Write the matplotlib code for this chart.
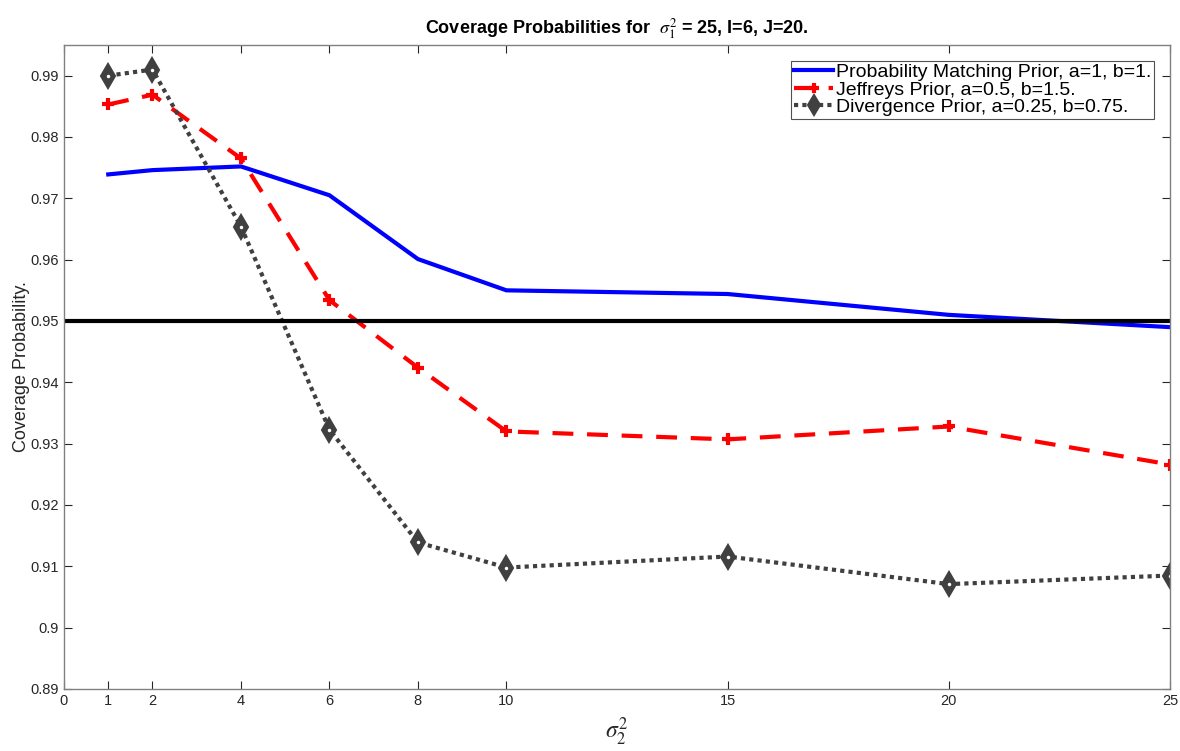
import matplotlib
matplotlib.use("Agg")
import matplotlib.pyplot as plt

plt.rcParams['font.family'] = ['Liberation Sans', 'DejaVu Sans']
plt.rcParams['mathtext.fontset'] = 'stix'

x = [1, 2, 4, 6, 8, 10, 15, 20, 25]
pm = [0.9739, 0.9746, 0.9752, 0.9705, 0.9601, 0.9550, 0.9544, 0.9510, 0.9490]
jeff = [0.9853, 0.9869, 0.9765, 0.9534, 0.9424, 0.9320, 0.9307, 0.9328, 0.9266]
div = [0.9900, 0.9910, 0.9654, 0.9323, 0.9139, 0.9098, 0.9116, 0.9071, 0.9085]
xticks = [0, 1, 2, 4, 6, 8, 10, 15, 20, 25]
yticks = [0.89, 0.90, 0.91, 0.92, 0.93, 0.94, 0.95, 0.96, 0.97, 0.98, 0.99]
ytick_labels = ['0.89', '0.9', '0.91', '0.92', '0.93', '0.94', '0.95', '0.96', '0.97', '0.98', '0.99']
nominal = 0.95

fig = plt.figure(figsize=(11.8, 7.51), dpi=100)
ax = fig.add_axes([64/1180, 1-689/751, (1170-64)/1180, (689-45)/751])

ax.plot(x, pm, color='#0000ff', lw=3, label='Probability Matching Prior, a=1, b=1.')
ax.plot(x, jeff, color='#ff0000', lw=3, ls=(0, (5, 3.3)), marker='+', ms=9, mew=3,
        label='Jeffreys Prior, a=0.5, b=1.5.')
ax.plot(x, div, color='#404040', lw=3, ls=(0, (1, 1)), marker='d', ms=12, mew=1.5,
        mfc='#404040', mec='#404040', label='Divergence Prior, a=0.25, b=0.75.')
ax.plot(x, div, ls='none', marker='o', ms=2.5, mfc='white', mec='white', mew=0)
ax.axhline(nominal, color='black', lw=3)

ax.set_xlim(0, 25)
ax.set_ylim(0.89, 0.995)
ax.set_xticks(xticks)
ax.set_xticklabels([str(t) for t in xticks])
ax.set_yticks(yticks)
ax.set_yticklabels(ytick_labels)
ax.tick_params(direction='in', top=True, right=True, length=6, width=0.8,
               labelsize=10.5, labelcolor='#262626', color='#262626')
for s in ax.spines.values():
    s.set_color('#808080')
    s.set_linewidth(1)

ax.set_ylabel('Coverage Probability.', fontsize=13, color='#262626')
ax.yaxis.set_label_coords(-0.031, 0.5)
ax.set_xlabel(r'$\sigma_2^2$', fontsize=17, color='#262626', labelpad=6)
ax.set_title(r'Coverage Probabilities for  $\sigma_1^2$ = 25, I=6, J=20.', fontsize=13,
             fontweight='bold', pad=8)

leg = ax.legend(loc='upper right', fontsize=14, frameon=True, fancybox=False,
                edgecolor='#262626', handlelength=2.0, handletextpad=0.15,
                borderpad=0.15, labelspacing=0.0, borderaxespad=0.8, markerscale=0.85)
leg.get_frame().set_linewidth(0.8)

fig.savefig('out.png', dpi=100)
